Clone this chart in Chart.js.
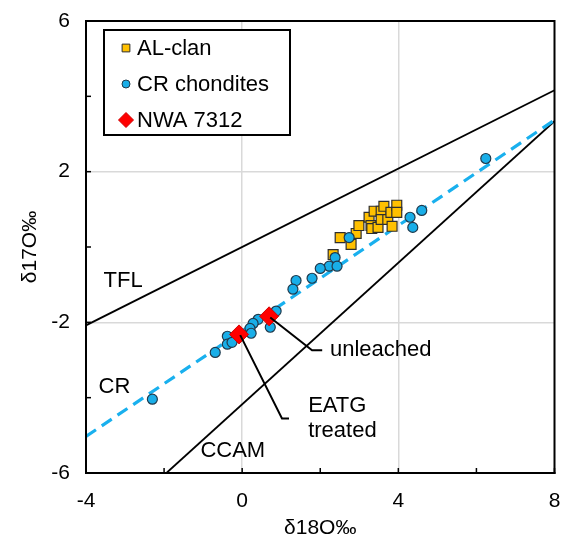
<!DOCTYPE html>
<html><head><meta charset="utf-8">
<script src="https://cdn.jsdelivr.net/npm/chart.js@4.4.1/dist/chart.umd.min.js"></script>
<style>html,body{margin:0;padding:0;background:#fff}#wrap{width:565px;height:543px;position:relative}</style>
</head><body><div id="wrap"><canvas id="c" width="565" height="543"></canvas></div>
<script>
// ---- data ----
const alClanX = [2.51, 2.79, 2.92, 2.99, 3.25, 3.30, 3.32, 3.38, 3.48, 3.56, 3.56, 3.63, 3.73, 3.81, 3.84, 3.96, 3.96, 2.33];
const alClanY = [0.25, 0.07, 0.36, 0.57, 0.79, 0.57, 0.49, 0.95, 0.52, 0.95, 0.73, 1.08, 0.73, 0.92, 0.55, 1.11, 0.92, -0.20];
const crX = [-2.30, 6.24, 2.74, 2.38, 4.30, 4.60, 4.37, 2.23, 2.00, 2.43, 1.79, 1.38, 1.30, 0.87, 0.72, 0.41, 0.28, 0.20, 0.23, -0.38, -0.38, -0.26, -0.69];
const crY = [-4.04, 2.35, 0.25, -0.28, 0.79, 0.97, 0.52, -0.51, -0.57, -0.51, -0.83, -0.89, -1.12, -1.70, -2.13, -1.92, -2.03, -2.16, -2.29, -2.37, -2.58, -2.53, -2.80];
const nwaX = [-0.08, 0.69];
const nwaY = [-2.32, -1.84];
const tflX = [-4, 8];      const tflY = [-2.08, 4.16];
const ccamX = [-1.94, 8];  const ccamY = [-6, 3.34];
const crLineX = [-4, 8];   const crLineY = [-5.03, 3.37];
const xTickLabels = [-4, 0, 4, 8];
const yTickLabels = [-6, -2, 2, 6];
const seriesNames = ['AL-clan', 'CR chondites', 'NWA 7312'];
const xTitle = 'δ18O‰';
const yTitle = 'δ17O‰';

const FONT = '"Liberation Sans", Arial, sans-serif';
const pts = (xs, ys) => xs.map((x, i) => ({x: x, y: ys[i]}));

const annotations = {
  texts: [
    {t: 'TFL', x: -3.55, y: -0.91},
    {t: 'CR', x: -3.68, y: -3.72},
    {t: 'CCAM', x: -1.07, y: -5.42},
    {t: 'unleached', x: 2.25, y: -2.74},
    {t: 'EATG', x: 1.69, y: -4.23},
    {t: 'treated', x: 1.69, y: -4.89}
  ],
  leaders: [
    [[0.72, -1.87], [1.79, -2.74], [2.05, -2.74]],
    [[-0.05, -2.34], [1.02, -4.55], [1.20, -4.55]]
  ]
};

const overlay = {
  id: 'overlay',
  beforeDatasetsDraw(chart) {
    const {ctx, chartArea: a, scales: {x, y}} = chart;
    ctx.save();
    ctx.strokeStyle = '#000';
    ctx.lineWidth = 1.5;
    for (let v = -4; v <= 8; v += 2) {
      const px = x.getPixelForValue(v);
      ctx.beginPath(); ctx.moveTo(px, a.bottom); ctx.lineTo(px, a.bottom - 5); ctx.stroke();
    }
    for (let v = -6; v <= 6; v += 2) {
      const py = y.getPixelForValue(v);
      ctx.beginPath(); ctx.moveTo(a.left, py); ctx.lineTo(a.left + 5, py); ctx.stroke();
    }
    ctx.restore();
  },
  afterDatasetsDraw(chart) {
    const {ctx, chartArea: a, scales: {x, y}} = chart;
    ctx.save();
    ctx.strokeStyle = '#000';
    ctx.lineWidth = 2;
    ctx.strokeRect(a.left, a.top, a.right - a.left, a.bottom - a.top);
    ctx.lineWidth = 2;
    annotations.leaders.forEach(l => {
      ctx.beginPath();
      l.forEach((p, i) => {
        const px = x.getPixelForValue(p[0]), py = y.getPixelForValue(p[1]);
        if (i === 0) ctx.moveTo(px, py); else ctx.lineTo(px, py);
      });
      ctx.stroke();
    });
    ctx.fillStyle = '#000';
    ctx.font = '22px ' + FONT;
    ctx.textAlign = 'left';
    ctx.textBaseline = 'middle';
    annotations.texts.forEach(t => {
      ctx.fillText(t.t, x.getPixelForValue(t.x), y.getPixelForValue(t.y));
    });
    // legend
    const L = 104, T = 30, W = 186, H = 105;
    ctx.fillStyle = '#fff';
    ctx.fillRect(L, T, W, H);
    ctx.strokeStyle = '#000';
    ctx.lineWidth = 2;
    ctx.strokeRect(L, T, W, H);
    const legendRadius = [5.5, 4, 7.5];
    for (let i = 0; i < 3; i++) {
      const ds = chart.data.datasets[i];
      const cy = T + 18 + i * 36;
      ctx.fillStyle = ds.backgroundColor;
      ctx.strokeStyle = ds.borderColor;
      ctx.lineWidth = 1;
      Chart.helpers.drawPoint(ctx, {pointStyle: ds.pointStyle, radius: legendRadius[i], rotation: 0, borderWidth: 1}, 126, cy);
      ctx.fillStyle = '#000';
      ctx.font = '22px ' + FONT;
      ctx.textBaseline = 'middle';
      ctx.fillText(seriesNames[i], 137, cy + 1);
    }
    ctx.restore();
  }
};

const tickFont = {family: FONT, size: 21};

new Chart(document.getElementById('c'), {
  type: 'scatter',
  data: {
    datasets: [
      {label: seriesNames[0], data: pts(alClanX, alClanY), pointStyle: 'rect', pointRadius: 7,
       backgroundColor: '#FFC000', borderColor: '#2E2E2E', borderWidth: 1.2, order: 3},
      {label: seriesNames[1], data: pts(crX, crY), pointStyle: 'circle', pointRadius: 5,
       backgroundColor: '#19AEE8', borderColor: '#1F3A4D', borderWidth: 1.2, order: 2},
      {label: seriesNames[2], data: pts(nwaX, nwaY), pointStyle: 'rectRot', pointRadius: 9.5,
       backgroundColor: '#FF0000', borderColor: '#D00000', borderWidth: 1, order: 1},
      {label: 'TFL', data: pts(tflX, tflY), showLine: true, pointRadius: 0, borderColor: '#000', borderWidth: 1.8, order: 10},
      {label: 'CCAM', data: pts(ccamX, ccamY), showLine: true, pointRadius: 0, borderColor: '#000', borderWidth: 1.8, order: 10},
      {label: 'CR', data: pts(crLineX, crLineY), showLine: true, pointRadius: 0, borderColor: '#19B0EE', borderWidth: 3.2, borderDash: [12, 7], order: 9}
    ]
  },
  options: {
    responsive: false,
    animation: false,
    events: [],
    layout: {padding: {left: 0, right: 10, top: 21, bottom: 0}},
    plugins: {legend: {display: false}, tooltip: {enabled: false}},
    scales: {
      x: {
        type: 'linear', min: -4, max: 8,
        afterFit: s => { s.height = 70; s.paddingLeft = 0; s.paddingRight = 0; },
        ticks: {stepSize: 2, autoSkip: false, maxRotation: 0, padding: 16, color: '#000', font: tickFont,
                callback: v => xTickLabels.includes(v) ? String(v) : ''},
        grid: {drawTicks: false, lineWidth: 1.5,
               color: c => (c.tick && xTickLabels.includes(c.tick.value) && c.tick.value > -4 && c.tick.value < 8) ? '#D9D9D9' : 'rgba(0,0,0,0)'},
        border: {color: '#000', width: 2},
        title: {display: true, text: xTitle, color: '#000', font: tickFont, padding: {top: 0, bottom: 2}}
      },
      y: {
        type: 'linear', min: -6, max: 6,
        afterFit: s => { s.width = 86; s.paddingTop = 0; s.paddingBottom = 0; },
        ticks: {stepSize: 2, autoSkip: false, padding: 16, color: '#000', font: tickFont,
                callback: v => yTickLabels.includes(v) ? String(v) : ''},
        grid: {drawTicks: false, lineWidth: 1.5,
               color: c => (c.tick && yTickLabels.includes(c.tick.value) && c.tick.value > -6 && c.tick.value < 6) ? '#D9D9D9' : 'rgba(0,0,0,0)'},
        border: {color: '#000', width: 2},
        title: {display: true, text: yTitle, color: '#000', font: tickFont, padding: {top: 18, bottom: 0}}
      }
    }
  },
  plugins: [overlay]
});
</script>
</body></html>
